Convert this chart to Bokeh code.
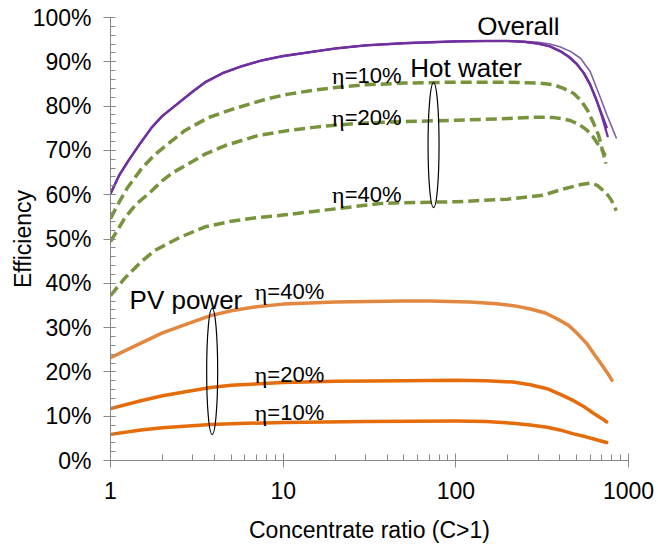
from bokeh.plotting import figure
from bokeh.models import FixedTicker, CustomJSTickFormatter
from bokeh.core.properties import value
from bokeh.embed import file_html
from bokeh.resources import INLINE

# ---- data (concentration ratio C, efficiency %) ----
c_ov10 = [1, 1.12, 1.27, 1.5, 1.735, 2, 2.37, 3, 3.54, 4.5, 5.76, 7.5, 10, 15, 20, 30, 50, 70, 100, 150, 200, 250, 300, 350, 400, 450, 500, 550, 600, 650, 700, 750]
ov10 = [60.2, 64.3, 67.7, 71.8, 75.2, 77.8, 80.1, 83.3, 85.4, 87.5, 89.0, 90.3, 91.3, 92.3, 93.0, 93.7, 94.2, 94.4, 94.6, 94.7, 94.7, 94.5, 94.1, 93.5, 92.5, 91.2, 89.6, 87.5, 84.8, 81.5, 78.2, 75.0]
c_ov20 = [1, 1.12, 1.27, 1.5, 1.735, 2, 2.37, 3, 3.54, 4.5, 5.76, 7.5, 10, 15, 20, 30, 50, 70, 100, 150, 200, 250, 300, 350, 400, 450, 500, 550, 600, 650, 700, 760]
ov20 = [60.2, 64.3, 67.7, 71.8, 75.2, 77.8, 80.1, 83.3, 85.4, 87.5, 89.0, 90.3, 91.3, 92.3, 93.0, 93.7, 94.2, 94.4, 94.6, 94.7, 94.7, 94.5, 94.1, 93.5, 92.4, 91.1, 89.5, 87.5, 84.9, 81.6, 77.8, 73.0]
c_ov40 = [1, 1.12, 1.27, 1.5, 1.735, 2, 2.37, 3, 3.54, 4.5, 5.76, 7.5, 10, 15, 20, 30, 50, 70, 100, 150, 200, 250, 300, 350, 400, 464, 527, 600, 686, 750, 800, 852]
ov40 = [60.2, 64.3, 67.7, 71.8, 75.2, 77.8, 80.1, 83.3, 85.4, 87.5, 89.0, 90.3, 91.3, 92.3, 93.0, 93.7, 94.2, 94.4, 94.6, 94.7, 94.7, 94.6, 94.4, 94.0, 93.4, 92.3, 90.8, 87.8, 82.0, 78.0, 75.3, 72.7]

c_hw10 = [1, 1.11, 1.25, 1.52, 1.8, 2.17, 2.7, 3.69, 5, 6.3, 8, 10.74, 15, 20, 30, 50, 100, 200, 300, 370, 420, 480, 530, 580, 630, 670, 700, 740]
hw10 = [54.6, 58.0, 61.5, 66.0, 69.0, 71.6, 74.5, 77.4, 79.2, 80.4, 81.6, 82.7, 83.6, 84.2, 84.8, 85.2, 85.4, 85.4, 85.2, 84.8, 84.0, 82.9, 81.3, 79.0, 76.0, 73.5, 70.7, 67.0]
c_hw20 = [1, 1.2, 1.4, 1.66, 2, 2.3, 2.83, 3.5, 4.62, 7.2, 10.74, 15, 20, 30, 50, 100, 200, 300, 370, 420, 464, 520, 577, 620, 660, 700, 735]
hw20 = [49.4, 54.5, 57.8, 60.2, 63.2, 65.0, 67.0, 69.1, 71.1, 73.4, 74.5, 75.2, 75.7, 76.2, 76.5, 76.8, 77.2, 77.5, 77.4, 77.1, 76.7, 75.8, 74.5, 73.2, 71.6, 70.2, 68.8]
c_hw40 = [1, 1.2, 1.5, 1.8, 2.5, 3.5, 5, 7, 10, 20, 36, 50, 100, 140, 200, 310, 340, 420, 530, 600, 660, 710, 760, 800, 850]
hw40 = [37.2, 41.0, 44.8, 47.4, 50.3, 52.7, 54.0, 54.8, 55.4, 56.8, 58.0, 58.2, 58.4, 58.7, 59.0, 59.8, 60.2, 61.3, 62.3, 62.6, 62.1, 61.0, 59.9, 58.6, 56.4]

c_pv40 = [1, 1.5, 2, 3, 3.8, 5, 7, 10, 20, 50, 71, 120, 172, 220, 270, 330, 385, 450, 507, 570, 630, 700, 760, 802]
pv40 = [23.2, 26.5, 28.8, 31.3, 32.7, 33.8, 34.7, 35.3, 35.8, 36.0, 36.0, 35.8, 35.4, 34.9, 34.2, 33.3, 32.0, 30.5, 28.6, 26.5, 24.1, 21.6, 19.6, 18.1]
c_pv20 = [1, 1.5, 2, 3, 3.8, 5, 10, 20, 50, 100, 150, 214, 270, 338, 400, 481, 560, 630, 700, 748]
pv20 = [11.7, 13.5, 14.6, 15.8, 16.5, 17.0, 17.6, 17.9, 18.0, 18.1, 18.0, 17.7, 17.1, 16.2, 15.0, 13.5, 12.0, 10.6, 9.5, 8.7]
c_pv10 = [1, 1.5, 2, 3.8, 5, 10, 30, 100, 150, 214, 270, 338, 400, 481, 560, 630, 700, 748]
pv10 = [5.9, 6.9, 7.4, 8.1, 8.3, 8.6, 8.8, 8.9, 8.8, 8.4, 8.0, 7.5, 6.9, 6.0, 5.4, 4.85, 4.35, 4.05]

x_ticks = [1, 10, 100, 1000]
y_ticks = [0, 10, 20, 30, 40, 50, 60, 70, 80, 90, 100]

# ---- annotation texts ----
eta_labels = ["=10%", "=20%", "=40%"]
hw_label_y = [86.9, 77.4, 60.0]
pv_label_y = [10.8, 19.4, 38.1]

FONT = value("Liberation Sans")
GRAY = "#898989"

p = figure(width=658, height=553, x_axis_type="log", x_range=(1, 1000), y_range=(0, 100),
           output_backend="svg", toolbar_location=None,
           min_border_left=110, min_border_right=30, min_border_top=17, min_border_bottom=93)
p.outline_line_color = None
p.xgrid.visible = False
p.ygrid.visible = False
p.background_fill_color = "white"
p.border_fill_color = "white"

# lines
p.line(c_ov40, ov40, line_color="#7E61A0", line_width=1.6, line_join="round")
p.line(c_ov10, ov10, line_color="#7030A0", line_width=2.4, line_join="round")
p.line(c_ov20, ov20, line_color="#7030A0", line_width=2.2, line_join="round")

for cx, cy in ((c_hw10, hw10), (c_hw20, hw20), (c_hw40, hw40)):
    p.line(cx, cy, line_color="#77933C", line_width=3.5, line_dash="11 5", line_join="round")

p.line(c_pv40, pv40, line_color="#E2873F", line_width=3.5, line_join="round", line_cap="round")
p.line(c_pv20, pv20, line_color="#E46C0A", line_width=3.5, line_join="round", line_cap="round")
p.line(c_pv10, pv10, line_color="#E46C0A", line_width=3.5, line_join="round", line_cap="round")

# ellipses
p.ellipse(x=[74.3], y=[71.2], width=11, height=125, width_units="screen", height_units="screen",
          fill_color=None, line_color="black", line_width=1.2)
p.ellipse(x=[3.88], y=[20.1], width=11, height=126, width_units="screen", height_units="screen",
          fill_color=None, line_color="black", line_width=1.2)

# labels
p.text(x=[133], y=[98.0], text=["Overall"], text_font=FONT, text_font_size="26px",
       text_baseline="middle", text_align="left", text_color="black")
p.text(x=[54.5], y=[88.7], text=["Hot water"], text_font=FONT, text_font_size="26px",
       text_baseline="middle", text_align="left", text_color="black")
p.text(x=[1.289], y=[36.3], text=["PV power"], text_font=FONT, text_font_size="26px",
       text_baseline="middle", text_align="left", text_color="black")

hw_anchor = [22.7] * 3
pv_anchor = [8.1] * 3
p.text(x=hw_anchor, y=hw_label_y, text=["η"] * 3, text_font=value("Liberation Serif"),
       text_font_size="24px", text_baseline="middle", text_align="right", text_color="black")
p.text(x=hw_anchor, y=hw_label_y, text=eta_labels, text_font=FONT,
       text_font_size="22px", text_baseline="middle", text_align="left", text_color="black")
p.text(x=pv_anchor, y=pv_label_y, text=["η"] * 3, text_font=value("Liberation Serif"),
       text_font_size="24px", text_baseline="middle", text_align="right", text_color="black")
p.text(x=pv_anchor, y=pv_label_y, text=eta_labels, text_font=FONT,
       text_font_size="22px", text_baseline="middle", text_align="left", text_color="black")

# axes
xa = p.xaxis[0]
xa.ticker = FixedTicker(ticks=x_ticks,
                        minor_ticks=[m * d for d in (1, 10, 100) for m in range(2, 10)])
xa.formatter = CustomJSTickFormatter(code="return String(tick)")
xa.axis_label = "Concentrate ratio (C>1)"
ya = p.yaxis[0]
ya.ticker = FixedTicker(ticks=y_ticks, minor_ticks=list(range(2, 100, 2)))
ya.formatter = CustomJSTickFormatter(code="return tick.toFixed(0) + '%'")
ya.axis_label = "Efficiency"

for ax in (xa, ya):
    ax.axis_line_color = GRAY
    ax.major_tick_line_color = GRAY
    ax.minor_tick_line_color = GRAY
    ax.major_label_text_font = "Liberation Sans"
    ax.major_label_text_font_size = "23px"
    ax.major_label_text_color = "black"
    ax.axis_label_text_font = "Liberation Sans"
    ax.axis_label_text_font_size = "23px"
    ax.axis_label_text_font_style = "normal"
    ax.axis_label_text_color = "black"

xa.major_tick_in = 7
xa.major_tick_out = 7
xa.minor_tick_in = 6
xa.minor_tick_out = 0
xa.major_label_standoff = 14
xa.axis_label_standoff = 15

ya.major_tick_in = 5
ya.major_tick_out = 7
ya.minor_tick_in = 5
ya.minor_tick_out = 0
ya.major_label_standoff = 12
ya.axis_label_standoff = -6

open("out.html", "w").write(file_html(p, INLINE))
